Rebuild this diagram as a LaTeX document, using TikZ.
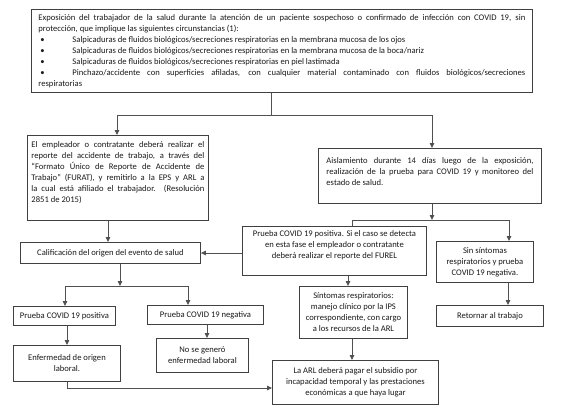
\documentclass[tikz,border=0pt]{standalone}
\usepackage{fontspec}
\setmainfont{Carlito}
\usetikzlibrary{arrows.meta,calc}
\newcommand\diagfont{\fontsize{8.6}{11}\selectfont}
\definecolor{boxc}{HTML}{404040}
\definecolor{linec}{HTML}{505050}
\definecolor{txtc}{HTML}{1A1A1A}
\tikzset{
  bx/.style={draw=boxc, line width=0.9pt, anchor=north west, inner ysep=2pt,
    font=\diagfont, text=txtc},
  cen/.style={align=center},
  jus/.style={align=justify},
  conn/.style={draw=linec, line width=0.8pt},
  arr/.style={conn, -{Triangle[length=5pt,width=4.5pt]}}
}
\begin{document}
\begin{tikzpicture}[x=1pt,y=-1pt]
\useasboundingbox (0,0) rectangle (567,415);
\fill[white] (0,0) rectangle (567,415);
% boxes
\node[bx, jus, inner xsep=7pt, text width=487pt, minimum width=501pt, minimum height=83pt] (top) at (31,9)
 {Exposición del trabajador de la salud durante la atención de un paciente sospechoso o confirmado de infección con COVID 19, sin\linebreak protección, que implique las siguientes circunstancias (1):\par
 \noindent\hspace*{2pt}\makebox[32pt][l]{\textbullet}Salpicaduras de fluidos biológicos/secreciones respiratorias en la membrana mucosa de los ojos\par
 \noindent\hspace*{2pt}\makebox[32pt][l]{\textbullet}Salpicaduras de fluidos biológicos/secreciones respiratorias en la membrana mucosa de la boca/nariz\par
 \noindent\hspace*{2pt}\makebox[32pt][l]{\textbullet}Salpicaduras de fluidos biológicos/secreciones respiratorias en piel lastimada\par
 \hangindent=34pt\hangafter=1\noindent\hspace*{2pt}\makebox[32pt][l]{\textbullet}Pinchazo/accidente con superficies afiladas, con cualquier material contaminado con fluidos biológicos/secreciones\linebreak respiratorias};

\node[bx, jus, inner xsep=4pt, text width=173pt, minimum width=181pt, minimum height=85pt] (furat) at (27,135)
 {El empleador o contratante deberá realizar el\linebreak reporte del accidente de trabajo, a través del\linebreak “Formato Único de Reporte de Accidente de\linebreak Trabajo” (FURAT), y remitirlo a la EPS y ARL a\linebreak la cual está afiliado el trabajador. (Resolución\linebreak 2851 de 2015)\par\mbox{}};

\node[bx, jus, inner xsep=8pt, text width=207pt, minimum width=223pt, minimum height=55pt] (aisl) at (318,148)
 {Aislamiento durante 14 días luego de la exposición,\linebreak realización de la prueba para COVID 19 y monitoreo del\linebreak estado de salud.\par\mbox{}\par\vspace{-2pt}};

\node[bx, cen, minimum width=180pt, minimum height=21pt] (calif) at (20,242)
 {Calificación del origen del evento de salud};

\node[bx, cen, minimum width=184pt, minimum height=49pt] (pos1) at (242,226)
 {Prueba COVID 19 positiva. Si el caso se detecta\\ en esta fase el empleador o contratante\\ deberá realizar el reporte del FUREL\\[2pt]};

\node[bx, cen, minimum width=97pt, minimum height=41pt] (sin) at (436,241)
 {Sin síntomas\\ respiratorios y prueba\\ COVID 19 negativa.};

\node[bx, cen, minimum width=107pt, minimum height=21pt] (ret) at (436,305)
 {Retornar al trabajo};

\node[bx, cen, minimum width=108pt, minimum height=52pt] (sint) at (299,286)
 {Síntomas respiratorios:\\ manejo clínico por la IPS\\ correspondiente, con cargo\\ a los recursos de la ARL};

\node[bx, cen, minimum width=166pt, minimum height=44pt] (arl) at (272,360)
 {La ARL deberá pagar el subsidio por\\ incapacidad temporal y las prestaciones\\ económicas a que haya lugar};

\node[bx, cen, minimum width=102pt, minimum height=19pt] (ppos) at (13,306)
 {Prueba COVID 19 positiva};

\node[bx, cen, minimum width=116pt, minimum height=19pt] (pneg) at (147,305)
 {Prueba COVID 19 negativa};

\node[bx, cen, minimum width=107pt, minimum height=36pt] (enf) at (13,345)
 {Enfermedad de origen\\ laboral.};

\node[bx, cen, minimum width=92pt, minimum height=34pt] (nogen) at (156,338)
 {No se generó\\ enfermedad laboral};

% junction coordinates
\coordinate (ja) at (271,115);
\coordinate (jal) at (117,115);
\coordinate (jar) at (432,115);
\coordinate (jb) at (432,220);
\coordinate (jbl) at (352,220);
\coordinate (jbr) at (509,220);
\coordinate (jc) at (120,286);
\coordinate (jcl) at (65,286);
\coordinate (jcr) at (188,286);
\coordinate (je) at (67,388);
\coordinate (xf) at (108,0);
\coordinate (xr) at (508,0);
\coordinate (xp) at (348,0);
\coordinate (xn) at (207,0);

% connectors
\draw[conn] (top.south -| ja) -- (ja);
\draw[conn] (jal) -- (jar);
\draw[arr] (jal) -- (jal |- furat.north);
\draw[arr] (jar) -- (jar |- aisl.north);
\draw[arr] (furat.south -| xf) -- (calif.north -| xf);
\draw[arr] (pos1.west |- 0,253) -- (calif.east |- 0,253);
\draw[arr] (aisl.south -| jb) -- (jb);
\draw[conn] (jbl) -- (jbr);
\draw[conn] (jbl) -- (jbl |- pos1.north);
\draw[arr] (jbr) -- (jbr |- sin.north);
\draw[arr] (calif.south -| jc) -- (jc);
\draw[conn] (jcl) -- (jcr);
\draw[arr] (jcl) -- (jcl |- ppos.north);
\draw[arr] (jcr) -- (jcr |- pneg.north);
\draw[arr] (ppos.south -| je) -- (enf.north -| je);
\draw[arr] (pneg.south -| xn) -- (nogen.north -| xn);
\draw[arr] (pos1.south -| xp) -- (sint.north -| xp);
\draw[arr] (sin.south -| xr) -- (ret.north -| xr);
\draw[arr] (sint.south -| jbl) -- (arl.north -| jbl);
\draw[conn] (enf.south -| je) -- (je);
\draw[arr] (je) -- (arl.west |- je);
\end{tikzpicture}
\end{document}
